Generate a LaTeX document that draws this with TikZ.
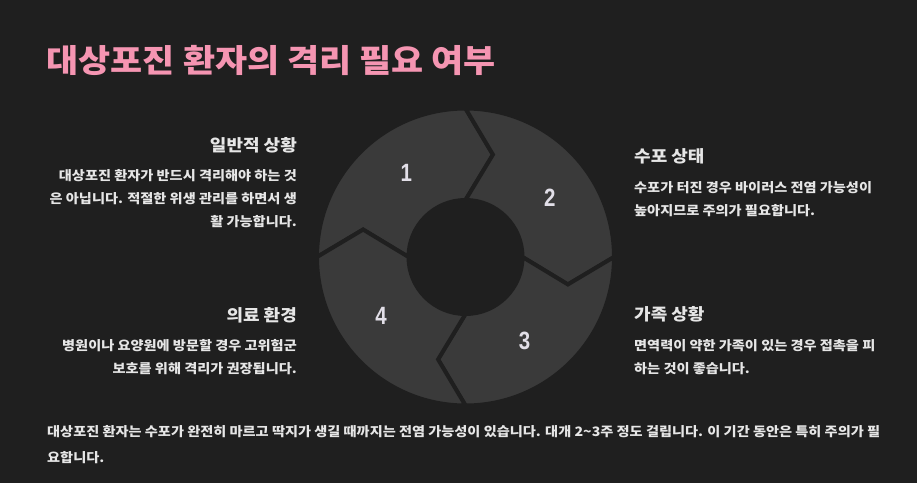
\documentclass[tikz,border=0pt]{standalone}
\usepackage{fontspec}
\setmainfont{Noto Sans CJK KR}[FakeStretch=1.09]
\newfontfamily\numfont{Liberation Sans}[FakeStretch=0.82]
\usetikzlibrary{positioning}
\usetikzlibrary{calc}
\definecolor{bgDark}{HTML}{1F1F1F}
\definecolor{segGray}{HTML}{3A3A3A}
\definecolor{txtLight}{HTML}{E6E6E6}
\definecolor{numLight}{HTML}{E2DFE8}
\definecolor{titlePink}{HTML}{F595B2}
\tikzset{
    objTitle/.style={inner sep=0, anchor=base west, text=titlePink, font=\fontsize{32}{38}\selectfont\bfseries},
    objHeadRight/.style={inner sep=0, anchor=base east, text=txtLight, font=\fontsize{16.5}{20}\selectfont\bfseries},
    objHeadLeft/.style={inner sep=0, anchor=base west, text=txtLight, font=\fontsize{16.5}{20}\selectfont\bfseries},
    objBodyRight/.style={inner sep=0, anchor=north east, align=right, text=txtLight, font=\fontsize{13}{23}\selectfont\bfseries},
    objBodyLeft/.style={inner sep=0, anchor=north west, align=left, text=txtLight, font=\fontsize{13}{23}\selectfont\bfseries},
    segPiece/.style={fill=segGray, draw=bgDark, line width=4pt},
    segNumber/.style={text=numLight, font=\fontsize{25}{28}\selectfont\numfont\bfseries}
}

\begin{document}
\begin{tikzpicture}[x=1pt, y=1pt]
  \fill[bgDark] (0,0) rectangle (917,483);
  \useasboundingbox (0,0) rectangle (917,483);

  \node (title) [objTitle] at (46.5,410.3) {대상포진 환자의 격리 필요 여부};

  \coordinate (ctr) at (465.5,226);
  \begin{scope}[shift={(ctr)}]
    \foreach \a/\num in {90/1, 0/2, -90/3, 180/4} {
      \path[segPiece] (\a:148.5) arc[start angle=\a, end angle=\a+90, radius=148.5]
        -- ({\a+75}:106) -- ({\a+90}:57) arc[start angle=\a+90, end angle=\a, radius=57]
        -- ({\a-15}:106) -- cycle;
      \node (seg\num) [segNumber] at ({\a+35}:103) {\num};
    }
  \end{scope}

  \node (gen0) [objHeadRight] at (297,331.6) {일반적 상황};
  \node (gen1) [objBodyRight] at (297,314) {대상포진 환자가 반드시 격리해야 하는 것\\은 아닙니다. 적절한 위생 관리를 하면서 생\\활 가능합니다.};

  \node (ves0) [objHeadLeft] at (634,320.9) {수포 상태};
  \node (ves1) [objBodyLeft] at (634,301.5) {수포가 터진 경우 바이러스 전염 가능성이\\높아지므로 주의가 필요합니다.};

  \node (fam0) [objHeadLeft] at (634,162.2) {가족 상황};
  \node (fam1) [objBodyLeft] at (634,143.3) {면역력이 약한 가족이 있는 경우 접촉을 피\\하는 것이 좋습니다.};

  \node (med0) [objHeadRight] at (297,162) {의료 환경};
  \node (med1) [objBodyRight] at (297,143.5) {병원이나 요양원에 방문할 경우 고위험군\\보호를 위해 격리가 권장됩니다.};

  \node (note) [objBodyLeft, font=\fontsize{13}{25.5}\selectfont\bfseries] at (47,57.3) {대상포진 환자는 수포가 완전히 마르고 딱지가 생길 때까지는 전염 가능성이 있습니다. 대개 2\textasciitilde3주 정도 걸립니다. 이 기간 동안은 특히 주의가 필\\요합니다.};
\end{tikzpicture}
\end{document}
